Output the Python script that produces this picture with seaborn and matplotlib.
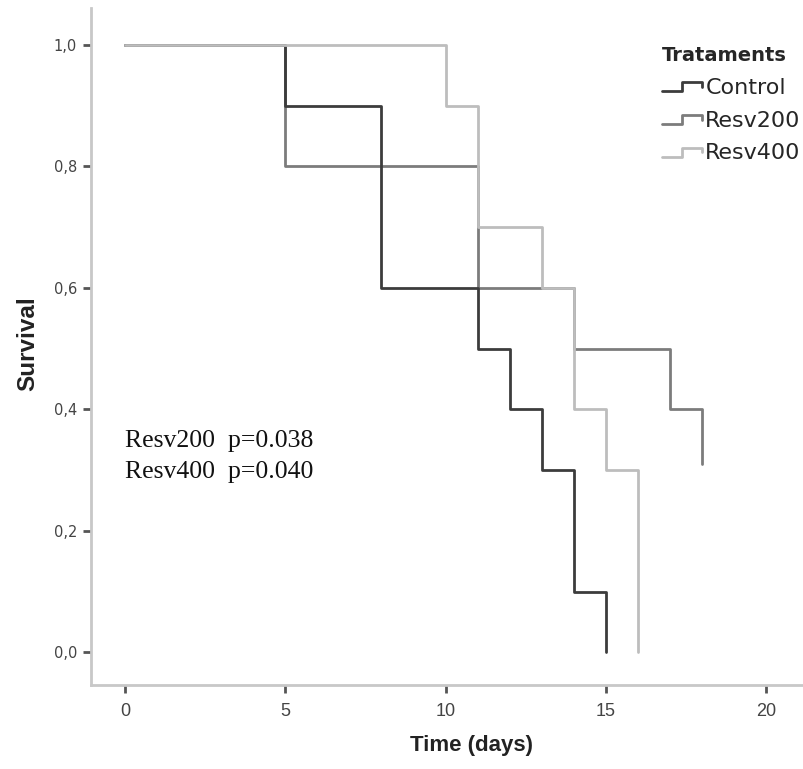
import numpy as np
import pandas as pd
import seaborn as sns
import matplotlib.pyplot as plt
from matplotlib.legend_handler import HandlerBase
from matplotlib.lines import Line2D

sns.set_style("white")
plt.rcParams['font.family'] = ['Liberation Sans', 'DejaVu Sans']

# Kaplan-Meier steps
control_t = [0, 5, 8, 11, 12, 13, 14, 15]
control_s = [1.0, 0.9, 0.6, 0.5, 0.4, 0.3, 0.1, 0.0]
resv200_t = [0, 5, 11, 14, 17, 18]
resv200_s = [1.0, 0.8, 0.6, 0.5, 0.4, 0.31]
resv400_t = [0, 10, 11, 13, 14, 15, 16]
resv400_s = [1.0, 0.9, 0.7, 0.6, 0.4, 0.3, 0.0]

groups = ['Control', 'Resv200', 'Resv400']
colors = ['#3c3c3c', '#7c7c7c', '#bdbdbd']
p_labels = ['Resv200  p=0.038', 'Resv400  p=0.040']
x_ticks = [0, 5, 10, 15, 20]
y_ticks = [0.0, 0.2, 0.4, 0.6, 0.8, 1.0]

df = pd.concat([
    pd.DataFrame({'time': control_t, 'surv': control_s, 'group': 'Control'}),
    pd.DataFrame({'time': resv200_t, 'surv': resv200_s, 'group': 'Resv200'}),
    pd.DataFrame({'time': resv400_t, 'surv': resv400_s, 'group': 'Resv400'}),
])


class StepHandler(HandlerBase):
    # little step icon like the SPSS legend
    def create_artists(self, legend, orig_handle, xdescent, ydescent,
                       width, height, fontsize, trans):
        xs = np.array([0, 0.5, 0.5, 1.0, 1.0]) * width - xdescent
        ys = np.array([0.15, 0.15, 0.75, 0.75, 0.45]) * height - ydescent
        ln = Line2D(xs, ys, color=orig_handle.get_color(), lw=2,
                    transform=trans)
        return [ln]


fig = plt.figure(figsize=(8.04, 7.69), dpi=100)
ax = fig.add_axes([0.1132, 0.1092, 0.8868, 0.8804])

palette = dict(zip(groups, colors))
# drawing order picked so overlaps look like the original
for g in ['Resv200', 'Control', 'Resv400']:
    sub = df[df['group'] == g]
    sns.lineplot(data=sub, x='time', y='surv', drawstyle='steps-post',
                 color=palette[g], lw=2, ax=ax, estimator=None, sort=False)

ax.set_xlim(-1.06, 21.18)
ax.set_ylim(-0.054, 1.061)
ax.set_xticks(x_ticks)
ax.set_xticklabels([str(t) for t in x_ticks])
ax.set_yticks(y_ticks)
ax.set_yticklabels([f'{v:.1f}'.replace('.', ',') for v in y_ticks],
                   family=['DejaVu Sans'], fontsize=10.5)

for side in ['top', 'right']:
    ax.spines[side].set_visible(False)
for side in ['left', 'bottom']:
    ax.spines[side].set_color('#c8c8c8')
    ax.spines[side].set_linewidth(2)

ax.tick_params(axis='both', direction='out', length=6, width=2,
               color='#555555', labelcolor='#444444',
               left=True, bottom=True, pad=4)
ax.tick_params(axis='x', pad=7, labelsize=13)

ax.set_xlabel('Time (days)', fontsize=16, fontweight='bold', color='#222222')
ax.set_ylabel('Survival', fontsize=17.5, fontweight='bold', color='#222222')
ax.xaxis.set_label_coords(0.533, -0.074)
ax.yaxis.set_label_coords(-0.072, 0.505)

for i, txt in enumerate(p_labels):
    ax.text(0.048, 0.360 - i * 0.045, txt, transform=ax.transAxes,
            fontsize=18.5, family=['Liberation Serif', 'DejaVu Serif'],
            color='#111111', va='center')

handles = [Line2D([], [], color=c) for c in colors]
leg = fig.legend(handles, groups, title='Trataments', loc='upper left',
                 bbox_to_anchor=(0.8234, 0.9405), frameon=False,
                 borderpad=0, borderaxespad=0,
                 handler_map={Line2D: StepHandler()},
                 prop={'family': 'DejaVu Sans', 'size': 16},
                 handlelength=1.8, handletextpad=0.15,
                 labelspacing=0.58, alignment='left')
leg.get_title().set_fontweight('bold')
leg.get_title().set_fontsize(14)
leg.get_title().set_family('DejaVu Sans')

fig.savefig('out.png', dpi=100)
